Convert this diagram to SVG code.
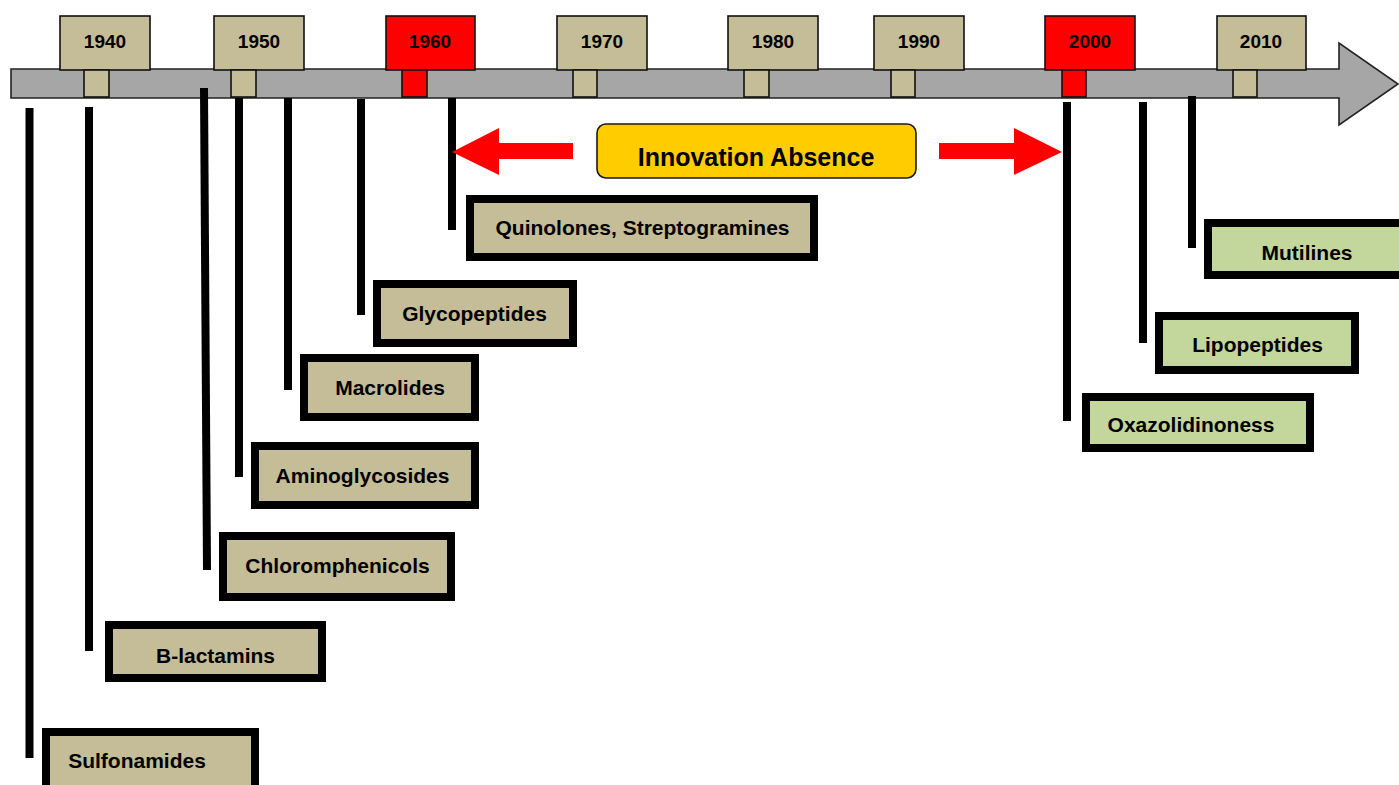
<svg xmlns="http://www.w3.org/2000/svg" width="1399" height="785" viewBox="0 0 1399 785">
<style>
text{font-family:"Liberation Sans",Arial,sans-serif;font-weight:bold;fill:#000;text-anchor:middle}
.yr{font-size:19px}
.lbl{font-size:21px}
.yb{fill:#C4BD97;stroke:#111;stroke-width:1.6}
.yr-red{fill:#FF0000;stroke:#111;stroke-width:1.6}
.kb{fill:#C4BD97;stroke:#000;stroke-width:8}
.gb{fill:#C3D69B;stroke:#000;stroke-width:8}
.stem{stroke:#000;stroke-width:8;fill:none}
.red{fill:#FF0000}
</style>
<g id="timeline">
<polygon points="11,69 1339,69 1339,43 1398,84 1339,125 1339,98 11,98" fill="#A6A6A6" stroke="#222" stroke-width="1.6"/>
</g>
<g id="years">
<g id="y1940"><rect class="yb" x="60" y="16" width="90" height="54"/><rect class="yb" x="84" y="70" width="25" height="27"/><text class="yr" x="105" y="48">1940</text></g>
<g id="y1950"><rect class="yb" x="214" y="16" width="90" height="54"/><rect class="yb" x="231" y="70" width="25" height="27"/><text class="yr" x="259" y="48">1950</text></g>
<g id="y1960"><rect class="yr-red" x="386" y="16" width="89" height="54"/><rect class="yr-red" x="402" y="70" width="25" height="27"/><text class="yr" x="430" y="48">1960</text></g>
<g id="y1970"><rect class="yb" x="557" y="16" width="90" height="54"/><rect class="yb" x="573" y="70" width="24" height="27"/><text class="yr" x="602" y="48">1970</text></g>
<g id="y1980"><rect class="yb" x="728" y="16" width="90" height="54"/><rect class="yb" x="744" y="70" width="25" height="27"/><text class="yr" x="773" y="48">1980</text></g>
<g id="y1990"><rect class="yb" x="874" y="16" width="90" height="54"/><rect class="yb" x="891" y="70" width="24" height="27"/><text class="yr" x="919" y="48">1990</text></g>
<g id="y2000"><rect class="yr-red" x="1045" y="16" width="90" height="54"/><rect class="yr-red" x="1062" y="70" width="24" height="27"/><text class="yr" x="1090" y="48">2000</text></g>
<g id="y2010"><rect class="yb" x="1217" y="16" width="89" height="54"/><rect class="yb" x="1233" y="70" width="24" height="27"/><text class="yr" x="1261" y="48">2010</text></g>
</g>
<g id="connectors">
<line class="stem" x1="29.5" y1="108" x2="29.5" y2="758"/>
<line class="stem" x1="89" y1="107" x2="89" y2="651"/>
<line class="stem" x1="204" y1="88" x2="207" y2="570"/>
<line class="stem" x1="239" y1="98" x2="239" y2="477"/>
<line class="stem" x1="288" y1="98" x2="288" y2="390"/>
<line class="stem" x1="361" y1="99" x2="361" y2="315"/>
<line class="stem" x1="452" y1="98" x2="452" y2="230"/>
<line class="stem" x1="1067" y1="102" x2="1067" y2="421"/>
<line class="stem" x1="1143" y1="102" x2="1143" y2="343"/>
<line class="stem" x1="1192" y1="96" x2="1192" y2="248"/>
<polygon class="red" points="573,143 499,143 499,128 452,152 499,175 499,159 573,159"/>
<polygon class="red" points="939,143 1014,143 1014,128 1062,152 1014,175 1014,159 939,159"/>
</g>
<g id="innovation">
<rect x="597" y="124" width="319" height="54" rx="9" fill="#FFCC00" stroke="#1a1a1a" stroke-width="1.6"/>
<text x="756" y="166" font-size="25px">Innovation Absence</text>
</g>
<g id="sulfonamides"><rect class="kb" x="46" y="732" width="209" height="59"/><text class="lbl" x="137" y="768">Sulfonamides</text></g>
<g id="blactamins"><rect class="kb" x="109" y="625" width="213" height="53"/><text class="lbl" x="215.5" y="663">B-lactamins</text></g>
<g id="chloromphenicols"><rect class="kb" x="223" y="536" width="228" height="61"/><text class="lbl" x="337.5" y="573">Chloromphenicols</text></g>
<g id="aminoglycosides"><rect class="kb" x="255" y="446" width="220" height="59"/><text class="lbl" x="362.5" y="483">Aminoglycosides</text></g>
<g id="macrolides"><rect class="kb" x="304" y="358" width="171" height="59"/><text class="lbl" x="390" y="395">Macrolides</text></g>
<g id="glycopeptides"><rect class="kb" x="377" y="284" width="196" height="59"/><text class="lbl" x="474.5" y="321">Glycopeptides</text></g>
<g id="quinolones"><rect class="kb" x="470" y="199" width="344" height="58"/><text class="lbl" x="642.5" y="235">Quinolones, Streptogramines</text></g>
<g id="oxazolidinoness"><rect class="gb" x="1086" y="397" width="224" height="51"/><text class="lbl" x="1191" y="432">Oxazolidinoness</text></g>
<g id="lipopeptides"><rect class="gb" x="1159" y="316" width="196" height="54"/><text class="lbl" x="1257.5" y="352">Lipopeptides</text></g>
<g id="mutilines"><rect class="gb" x="1208" y="223" width="200" height="52"/><text class="lbl" x="1307" y="260">Mutilines</text></g>
</svg>
